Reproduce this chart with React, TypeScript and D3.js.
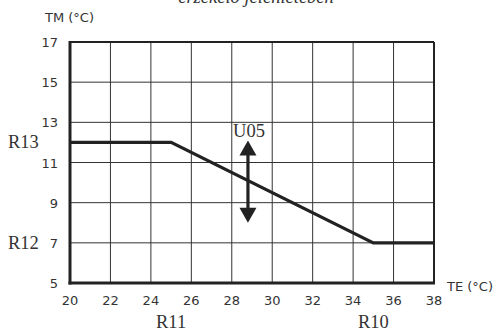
import React from 'react';
import * as d3 from 'd3';

// curve points: outside temperature TE -> mixed temperature TM
const curveTE = [20, 25, 35, 38];
const curveTM = [12, 12, 7, 7];
const xTicks = [20, 22, 24, 26, 28, 30, 32, 34, 36, 38];
const yTicks = [5, 7, 9, 11, 13, 15, 17];
const arrowTE = 28.8;
const arrowTM = [12.1, 8.0];

const width = 503;
const height = 333;
const margin = { top: 42, right: 69, bottom: 50, left: 70 };

const App = () => {
  const x = d3
    .scaleLinear()
    .domain([20, 38])
    .range([margin.left, width - margin.right]);
  const y = d3
    .scaleLinear()
    .domain([5, 17])
    .range([height - margin.bottom, margin.top]);

  const line = d3
    .line<number>()
    .x((d, i) => x(curveTE[i]))
    .y(d => y(d));

  const ax = x(arrowTE);
  const aTop = y(arrowTM[0]);
  const aBot = y(arrowTM[1]);
  const head = 15;
  const hw = 8.5;

  const tickFont = { fontFamily: 'DejaVu Sans', fontSize: 13, fill: '#333', fontWeight: 400 } as const;
  const serif = { fontFamily: 'Liberation Serif', fontSize: 18.5, fill: '#333', fontWeight: 400 } as const;

  return (
    <svg
      width={width}
      height={height}
      style={{ position: 'absolute', left: 0, top: 0, background: '#fff' }}
    >
      {/* subtitle, cut off at the top in the source */}
      <text x={256} y={3} textAnchor="middle" fontFamily="Liberation Serif" fontStyle="italic" fontSize={18.5} fill="#333">
        érzékelő jelenlétében
      </text>

      {xTicks.map(t => (
        <line key={'gx' + t} x1={x(t)} x2={x(t)} y1={y(17)} y2={y(5)} stroke="#333" strokeWidth={1} />
      ))}
      {yTicks.map(t => (
        <line key={'gy' + t} x1={x(20)} x2={x(38)} y1={y(t)} y2={y(t)} stroke="#333" strokeWidth={1} />
      ))}

      <line x1={x(20)} x2={x(38)} y1={y(17)} y2={y(17)} stroke="#222" strokeWidth={2} />
      <line x1={x(38)} x2={x(38)} y1={y(17)} y2={y(5)} stroke="#222" strokeWidth={2} />
      <line x1={x(20)} x2={x(20)} y1={y(17) - 1} y2={y(5) + 1.5} stroke="#222" strokeWidth={3} />
      <line x1={x(20) - 1.5} x2={x(38) + 1} y1={y(5)} y2={y(5)} stroke="#222" strokeWidth={3} />

      <path d={line(curveTM) || ''} fill="none" stroke="#222" strokeWidth={3.2} />

      <line x1={ax} x2={ax} y1={aTop + head - 2} y2={aBot - head + 2} stroke="#222" strokeWidth={3.2} />
      <path d={`M${ax},${aTop} L${ax - hw},${aTop + head} L${ax + hw},${aTop + head} Z`} fill="#222" />
      <path d={`M${ax},${aBot} L${ax - hw},${aBot - head} L${ax + hw},${aBot - head} Z`} fill="#222" />
      <text x={ax + 1} y={aTop - 3} textAnchor="middle" {...serif}>U05</text>

      {yTicks.map(t => (
        <text key={'ty' + t} x={58} y={y(t) + 5} textAnchor="end" {...tickFont}>{t}</text>
      ))}
      {xTicks.map(t => (
        <text key={'tx' + t} x={x(t)} y={305} textAnchor="middle" {...tickFont}>{t}</text>
      ))}

      <text x={45} y={22} {...tickFont}>TM (°C)</text>
      <text x={447} y={291} {...tickFont}>TE (°C)</text>

      <text x={8} y={y(12) + 6} {...serif}>R13</text>
      <text x={8} y={y(7) + 6} {...serif}>R12</text>
      <text x={x(25)} y={328} textAnchor="middle" {...serif}>R11</text>
      <text x={x(35)} y={328} textAnchor="middle" {...serif}>R10</text>
    </svg>
  );
};

export default App;
